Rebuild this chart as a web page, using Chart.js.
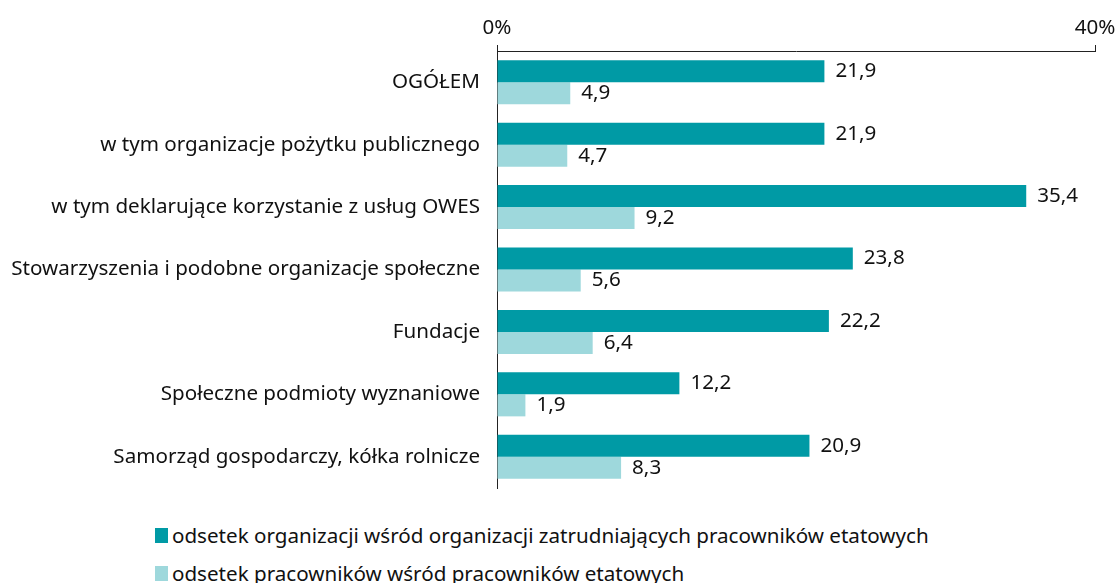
<!DOCTYPE html>
<html>
<head>
<meta charset="utf-8">
<script src="https://cdn.jsdelivr.net/npm/chart.js@4.4.1/dist/chart.umd.min.js"></script>
<style>
  html, body { margin: 0; padding: 0; background: #fff; }
  body { width: 1117px; height: 583px; position: relative; overflow: hidden; font-family: "Noto Sans", sans-serif; }
  #chart1 { position: absolute; left: 0; top: 0; }
  #legend { position: absolute; left: 155px; top: 521px; font-size: 20.6px; color: #111; }
  #legend .item { display: flex; align-items: center; height: 28px; margin-bottom: 10px; white-space: nowrap; }
  #legend .box { width: 13px; height: 15px; margin-right: 4px; }
</style>
</head>
<body>
<canvas id="chart1" width="1117" height="495"></canvas>
<div id="legend"></div>
<script>
  var categories = [
    "OGÓŁEM",
    "w tym organizacje pożytku publicznego",
    "w tym deklarujące korzystanie z usług OWES",
    "Stowarzyszenia i podobne organizacje społeczne",
    "Fundacje",
    "Społeczne podmioty wyznaniowe",
    "Samorząd gospodarczy, kółka rolnicze",
  ];
  var orgShare = [21.9, 21.9, 35.4, 23.8, 22.2, 12.2, 20.9];
  var workerShare = [4.9, 4.7, 9.2, 5.6, 6.4, 1.9, 8.3];
  var xTicks = [0, 40];
  var seriesNames = [
    "odsetek organizacji wśród organizacji zatrudniających pracowników etatowych",
    "odsetek pracowników wśród pracowników etatowych",
  ];
  var colors = ["#009aa5", "#9ed8dc"];
  var fontSize = 20.6;

  // value labels to the right of each bar
  var valueLabels = {
    id: "valueLabels",
    afterDatasetsDraw: function (chart) {
      var ctx = chart.ctx;
      ctx.save();
      ctx.font = fontSize + "px 'Noto Sans'";
      ctx.fillStyle = "#111";
      ctx.textAlign = "left";
      ctx.textBaseline = "middle";
      chart.data.datasets.forEach(function (ds, i) {
        chart.getDatasetMeta(i).data.forEach(function (bar, j) {
          var txt = ds.data[j].toFixed(1).replace(".", ",");
          ctx.fillText(txt, bar.x + 11, bar.y);
        });
      });
      ctx.restore();
    },
  };

  var ctx = document.getElementById("chart1").getContext("2d");
  var myChart = new Chart(ctx, {
    type: "bar",
    data: {
      labels: categories,
      datasets: [
        {
          label: seriesNames[0],
          data: orgShare,
          backgroundColor: colors[0],
          borderWidth: 0,
        },
        {
          label: seriesNames[1],
          data: workerShare,
          backgroundColor: colors[1],
          borderWidth: 0,
        },
      ],
    },
    options: {
      indexAxis: "y",
      responsive: false,
      animation: false,
      barPercentage: 1,
      categoryPercentage: 0.705,
      layout: { padding: { left: 0, right: 22, top: 0, bottom: 7 } },
      plugins: {
        legend: { display: false },
        tooltip: { enabled: false },
      },
      scales: {
        x: {
          position: "top",
          min: 0,
          max: 40,
          afterFit: function (s) {
            s.height = 51;
            s.paddingLeft = 0;
            s.paddingRight = 0;
          },
          afterBuildTicks: function (s) {
            s.ticks = xTicks.map(function (v) { return { value: v }; });
          },
          grid: {
            display: true,
            drawOnChartArea: false,
            drawTicks: true,
            tickLength: 6,
            color: "#222",
          },
          border: { display: true, color: "#222", width: 1 },
          ticks: {
            padding: 5,
            color: "#111",
            font: { family: "Noto Sans", size: fontSize },
            callback: function (v) { return v + "%"; },
          },
        },
        y: {
          afterFit: function (s) {
            s.width = 497;
            s.paddingTop = 0;
            s.paddingBottom = 0;
          },
          grid: { display: false, drawTicks: false },
          border: { display: true, color: "#222", width: 1 },
          ticks: {
            padding: 17,
            color: "#111",
            font: { family: "Noto Sans", size: fontSize },
          },
        },
      },
    },
    plugins: [valueLabels],
  });

  // legend as html, two left-aligned rows
  var legendEl = document.getElementById("legend");
  seriesNames.forEach(function (name, i) {
    var item = document.createElement("div");
    item.className = "item";
    var box = document.createElement("span");
    box.className = "box";
    box.style.background = colors[i];
    var txt = document.createElement("span");
    txt.textContent = name;
    item.appendChild(box);
    item.appendChild(txt);
    legendEl.appendChild(item);
  });
</script>
</body>
</html>
